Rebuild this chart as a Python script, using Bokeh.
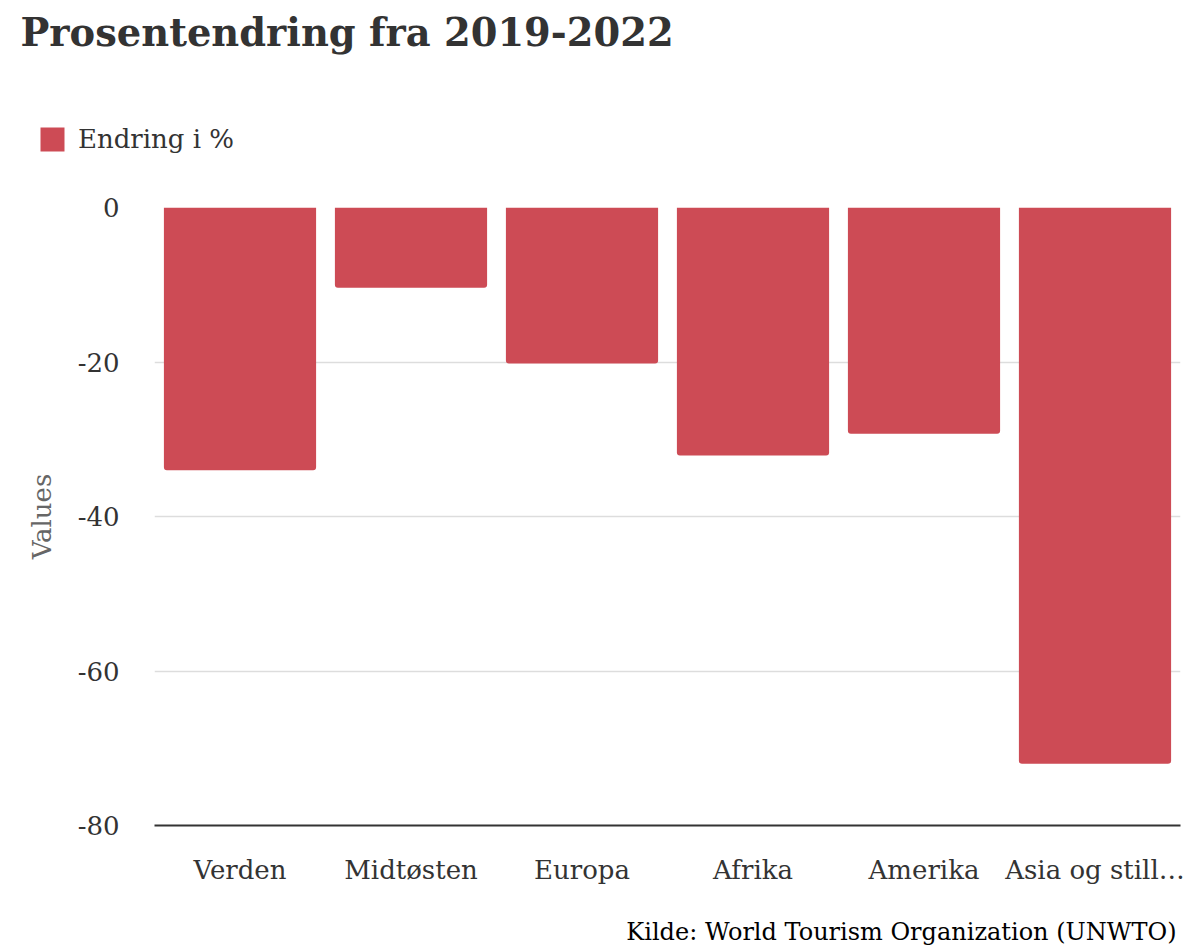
from bokeh.plotting import figure
from bokeh.layouts import column
from bokeh.models import Range1d, FixedTicker, Legend, LegendItem, ColumnDataSource, Title
from bokeh.embed import file_html
from bokeh.resources import INLINE

categories = ["Verden", "Midtøsten", "Europa", "Afrika", "Amerika", "Asia og still…"]
values = [-34, -10.4, -20.2, -32.1, -29.3, -72.0]
y_ticks = [-80, -60, -40, -20, 0]
y_tick_labels = ["-80", "-60", "-40", "-20", "0"]

title_text = "Prosentendring fra 2019-2022"
series_name = "Endring i %"
source_text = "Kilde: World Tourism Organization (UNWTO)"

FONT = "DejaVu Serif"
BAR = "#cd4b55"

src = ColumnDataSource(dict(cat=categories, val=values))

HEADER_H = 187
FOOTER_H = 55
MAIN_H = 950 - HEADER_H - FOOTER_H

# ---------- header: title + legend ----------
header = figure(width=1200, height=HEADER_H, x_range=categories, y_range=Range1d(1, 2),
                output_backend="svg", toolbar_location=None, frame_align=False,
                min_border_left=0, min_border_right=0, min_border_top=10, min_border_bottom=0)
header.outline_line_color = None
header.axis.visible = False
header.grid.visible = False
# same series; its bars fall outside this header's y range, so only the legend key shows
hr = header.vbar(x="cat", top=0, bottom="val", width=0.89, source=src,
                 fill_color=BAR, line_color=None, border_radius=3)
header.title = Title(text=title_text, align="left", offset=20, standoff=15,
                     text_font=FONT, text_font_size="38.4px", text_font_style="bold",
                     text_color="#333333")
legend = Legend(items=[LegendItem(label=series_name, renderers=[hr])],
                location=(37, 33), orientation="horizontal",
                padding=0, margin=0, border_line_color=None, background_fill_alpha=0,
                glyph_width=30, glyph_height=30, label_height=30, label_standoff=11,
                label_text_font=FONT, label_text_font_size="26px", label_text_color="#333333")
header.add_layout(legend, "center")

# ---------- main chart ----------
p = figure(width=1200, height=MAIN_H, x_range=categories, y_range=Range1d(-80, 0),
           output_backend="svg", toolbar_location=None, frame_align=False,
           min_border_left=154, min_border_right=20, min_border_top=20, min_border_bottom=70)
p.outline_line_color = None
p.background_fill_color = "white"

r = p.vbar(x="cat", top=0, bottom="val", width=0.89, source=src,
           fill_color=BAR, line_color=None, border_radius=(0, 0, 3, 3))

p.yaxis.ticker = FixedTicker(ticks=y_ticks)
p.yaxis.major_label_overrides = {t: s for t, s in zip(y_ticks, y_tick_labels)}
p.yaxis.axis_line_color = None
p.yaxis.major_tick_line_color = None
p.yaxis.minor_tick_line_color = None
p.yaxis.major_label_standoff = 29
p.yaxis.major_label_text_font = FONT
p.yaxis.major_label_text_font_size = "26px"
p.yaxis.major_label_text_color = "#333333"
p.yaxis.axis_label = "Values"
p.yaxis.axis_label_text_font = FONT
p.yaxis.axis_label_text_font_style = "normal"
p.yaxis.axis_label_text_font_size = "26px"
p.yaxis.axis_label_text_color = "#666666"
p.yaxis.axis_label_standoff = 18

p.xaxis.axis_line_color = "#333333"
p.xaxis.axis_line_width = 2
p.xaxis.major_tick_line_color = None
p.xaxis.minor_tick_line_color = None
p.xaxis.major_label_standoff = 23
p.xaxis.major_label_text_font = FONT
p.xaxis.major_label_text_font_size = "26px"
p.xaxis.major_label_text_color = "#333333"

p.xgrid.grid_line_color = None
p.ygrid.ticker = FixedTicker(ticks=y_ticks)
p.ygrid.grid_line_color = "#dddddd"
p.ygrid.grid_line_width = 1.5

# ---------- footer: source note ----------
footer = figure(width=1200, height=FOOTER_H, x_range=Range1d(0, 1), y_range=Range1d(0, 1),
                output_backend="svg", toolbar_location=None, frame_align=False,
                min_border_left=154, min_border_right=20, min_border_top=0, min_border_bottom=0)
footer.outline_line_color = None
footer.axis.visible = False
footer.grid.visible = False
footer.add_layout(Title(text=source_text, align="right", offset=4, standoff=9,
                        text_font=FONT, text_font_size="24px", text_font_style="normal",
                        text_color="#000000"), "below")

layout = column(header, p, footer, spacing=0)
open("out.html", "w").write(file_html(layout, INLINE))
